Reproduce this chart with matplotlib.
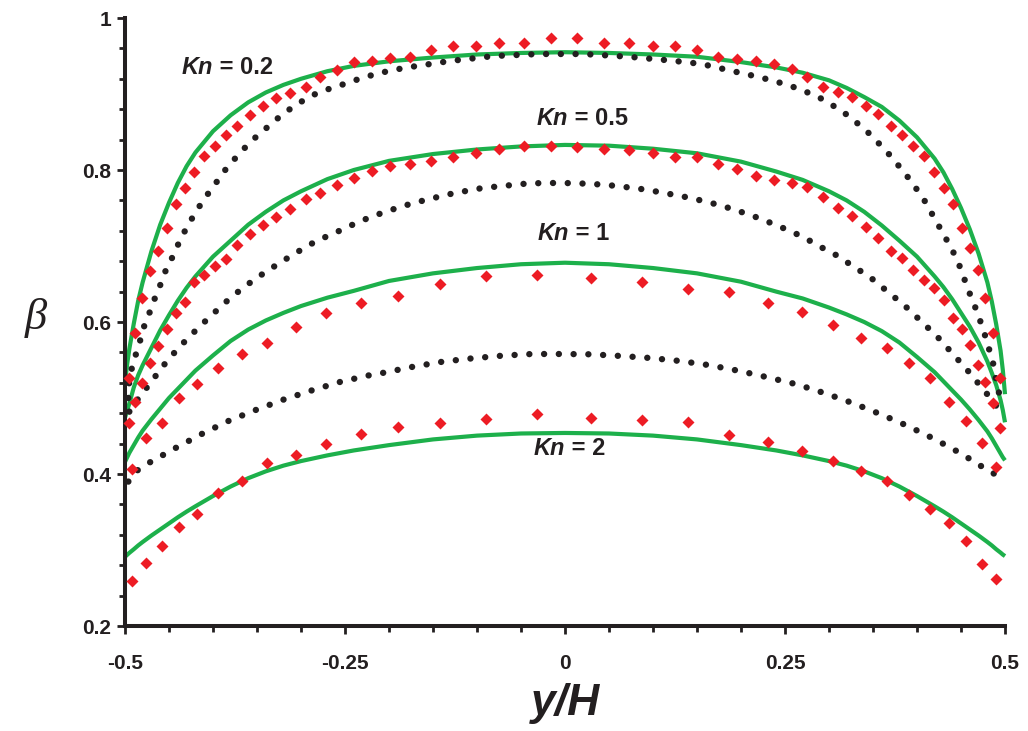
import matplotlib
matplotlib.use("Agg")
import matplotlib.pyplot as plt
from matplotlib.ticker import MultipleLocator, FixedLocator

# ---------------- data ----------------
# solid green curves
xg = [-0.5, -0.4975, -0.495, -0.49, -0.485, -0.48, -0.47, -0.46, -0.45, -0.44, -0.43, -0.42,
      -0.40, -0.38, -0.36, -0.34, -0.32, -0.30, -0.27, -0.24, -0.20, -0.15, -0.10, -0.05, 0.0,
      0.05, 0.10, 0.15, 0.20, 0.24, 0.27, 0.30, 0.32, 0.34, 0.36, 0.38, 0.40,
      0.42, 0.43, 0.44, 0.45, 0.46, 0.47, 0.48, 0.485, 0.49, 0.495, 0.4975, 0.5]
g_kn02 = [0.520, 0.545, 0.565, 0.598, 0.628, 0.652, 0.693, 0.728, 0.757, 0.783, 0.805, 0.823,
          0.851, 0.872, 0.889, 0.902, 0.912, 0.920, 0.930, 0.937, 0.943, 0.948, 0.952, 0.954, 0.955,
          0.954, 0.952, 0.949, 0.942, 0.935, 0.928, 0.918, 0.908, 0.896, 0.883, 0.865, 0.843,
          0.815, 0.797, 0.775, 0.750, 0.722, 0.690, 0.652, 0.627, 0.597, 0.562, 0.537, 0.505]
g_kn05 = [0.474, 0.484, 0.493, 0.514, 0.530, 0.543, 0.566, 0.589, 0.609, 0.628, 0.645, 0.660,
          0.686, 0.707, 0.728, 0.745, 0.760, 0.772, 0.788, 0.800, 0.812, 0.821, 0.827, 0.831, 0.833,
          0.832, 0.828, 0.822, 0.811, 0.798, 0.787, 0.772, 0.760, 0.745, 0.727, 0.707, 0.686,
          0.660, 0.646, 0.630, 0.612, 0.594, 0.573, 0.548, 0.533, 0.517, 0.497, 0.484, 0.468]
g_kn1 = [0.416, 0.422, 0.428, 0.438, 0.448, 0.457, 0.472, 0.486, 0.500, 0.512, 0.524, 0.536,
         0.556, 0.575, 0.590, 0.602, 0.612, 0.621, 0.632, 0.641, 0.654, 0.664, 0.671, 0.676, 0.678,
         0.676, 0.671, 0.664, 0.653, 0.640, 0.631, 0.619, 0.610, 0.600, 0.588, 0.573, 0.554,
         0.534, 0.522, 0.510, 0.498, 0.485, 0.471, 0.456, 0.447, 0.437, 0.427, 0.422, 0.418]
g_kn2 = [0.291, 0.2937, 0.2963, 0.301, 0.306, 0.3105, 0.319, 0.327, 0.335, 0.343, 0.3505, 0.3575,
         0.371, 0.3835, 0.3945, 0.4035, 0.411, 0.417, 0.4245, 0.431, 0.438, 0.4455, 0.4505, 0.4533, 0.454,
         0.4533, 0.4505, 0.4455, 0.438, 0.431, 0.4245, 0.417, 0.411, 0.4035, 0.3945, 0.3835, 0.371,
         0.3575, 0.3505, 0.343, 0.335, 0.327, 0.319, 0.3105, 0.306, 0.301, 0.2965, 0.294, 0.292]

# black dotted curves
xb_kn02 = [-0.4962, -0.4951, -0.4917, -0.4867, -0.4818, -0.4773, -0.4705, -0.4648, -0.4583, -0.4526,
           -0.4443, -0.4375, -0.4299, -0.4216, -0.4121, -0.4026, -0.3928, -0.3826, -0.3712, -0.3599,
           -0.3474, -0.3352, -0.322, -0.3087, -0.2935, -0.2784, -0.2621, -0.2462, -0.231, -0.2148,
           -0.1989, -0.181, -0.1309, -0.0805, -0.0297, 0.0212, 0.0717, 0.1222, 0.1553, 0.1883,
           0.2216, 0.2538, 0.286, 0.3144, 0.3409, 0.3648, 0.3864, 0.4064, 0.4231, 0.4394,
           0.447, 0.4526, 0.4583, 0.4648, 0.4708, 0.4761, 0.481, 0.4859, 0.4886, 0.4924, 0.495]
b_kn02 = [0.500, 0.5237, 0.5421, 0.561, 0.5794, 0.5983, 0.6167, 0.6355, 0.6531, 0.6715,
          0.6891, 0.7079, 0.7241, 0.7408, 0.7583, 0.7737, 0.7891, 0.8057, 0.8197, 0.8342,
          0.8474, 0.8592, 0.8724, 0.8833, 0.8943, 0.903, 0.9088, 0.915, 0.921, 0.9263,
          0.9307, 0.9346, 0.9434, 0.950, 0.9526, 0.9526, 0.9491, 0.9438, 0.9395, 0.9307,
          0.922, 0.9118, 0.8974, 0.878, 0.8535, 0.8254, 0.7956, 0.7641, 0.7299, 0.6963,
          0.678, 0.6605, 0.6421, 0.6237, 0.6049, 0.5872, 0.5675, 0.550, 0.5303, 0.5114, 0.495]
xb_kn05 = [-0.4951, -0.4905, -0.481, -0.4716, -0.4508, -0.4281, -0.4042, -0.3788, -0.3523, -0.3239,
           -0.2947, -0.2803, -0.264, -0.2489, -0.2337, -0.2178, -0.2026, -0.1856, -0.1693, -0.1534,
           -0.1364, -0.1201, -0.1034, -0.0871, -0.0701, -0.0542, -0.0367, -0.0197, -0.0026, 0.014,
           0.0311, 0.0481, 0.0651, 0.0815, 0.0985, 0.1148, 0.1315, 0.1477, 0.164, 0.1807,
           0.1969, 0.2128, 0.2284, 0.2443, 0.2602, 0.2753, 0.2898, 0.3049, 0.3474, 0.3864,
           0.4231, 0.4564, 0.4784, 0.4886, 0.495]
b_kn05 = [0.482, 0.4908, 0.5049, 0.5193, 0.5509, 0.5794, 0.6062, 0.6333, 0.6566, 0.678,
          0.6987, 0.7079, 0.7158, 0.7241, 0.732, 0.7395, 0.7455, 0.752, 0.7575, 0.7618,
          0.7671, 0.7706, 0.7746, 0.7772, 0.7789, 0.7812, 0.7825, 0.7829, 0.7829, 0.7825,
          0.7816, 0.7803, 0.778, 0.7759, 0.7728, 0.7693, 0.7658, 0.7618, 0.7573, 0.752,
          0.7461, 0.7399, 0.7329, 0.7254, 0.7175, 0.7088, 0.6991, 0.6904, 0.6583, 0.6211,
          0.5807, 0.5378, 0.507, 0.4921, 0.480]
xb_kn1 = [-0.4962, -0.4856, -0.4724, -0.4432, -0.4129, -0.3826, -0.3515, -0.3201, -0.2875, -0.2557,
          -0.2224, -0.2057, -0.1724, -0.139, -0.1053, -0.0712, -0.0378, -0.0038, 0.0295, 0.0633,
          0.0974, 0.1307, 0.164, 0.1969, 0.2303, 0.2633, 0.2955, 0.3277, 0.3587, 0.3894,
          0.4197, 0.4497, 0.4781, 0.4935]
b_kn1 = [0.390, 0.405, 0.4149, 0.4338, 0.4526, 0.4697, 0.4842, 0.4978, 0.5101, 0.5211,
         0.5299, 0.5333, 0.5412, 0.5478, 0.5522, 0.5557, 0.5579, 0.5579, 0.5575, 0.5553,
         0.5526, 0.5487, 0.5432, 0.5359, 0.5272, 0.518, 0.5062, 0.493, 0.4786, 0.4632,
         0.4461, 0.4272, 0.4066, 0.3965]

# red diamonds
xr_dense = [-0.4955, -0.4886, -0.4805, -0.4716, -0.4625, -0.4526, -0.442, -0.4318, -0.4212, -0.4102,
            -0.3977, -0.3852, -0.3724, -0.358, -0.3432, -0.328, -0.3121, -0.2947, -0.2784, -0.2594,
            -0.2398, -0.2193, -0.1985, -0.1757, -0.152, -0.1275, -0.1015, -0.0745, -0.0462, -0.016,
            0.0141, 0.0443, 0.0727, 0.0996, 0.1249, 0.1499, 0.1738, 0.196, 0.2176, 0.2378,
            0.2576, 0.2755, 0.2934, 0.31, 0.3258, 0.3417, 0.356, 0.3701, 0.3826, 0.3958,
            0.408, 0.4197, 0.4307, 0.4413, 0.4508, 0.4598, 0.4697, 0.4773, 0.4859, 0.494]
r_kn02 = [0.5259, 0.5851, 0.632, 0.6675, 0.6935, 0.7233, 0.7553, 0.7759, 0.7978, 0.8188,
          0.8316, 0.8461, 0.8579, 0.8724, 0.8838, 0.8943, 0.9013, 0.9096, 0.922, 0.932,
          0.9415, 0.9436, 0.947, 0.9491, 0.9579, 0.9632, 0.9632, 0.9667, 0.9676, 0.9733,
          0.9733, 0.9676, 0.9667, 0.9632, 0.9632, 0.9579, 0.9491, 0.9463, 0.943, 0.940,
          0.9325, 0.922, 0.9096, 0.9024, 0.8954, 0.8842, 0.8733, 0.8583, 0.8461, 0.8316,
          0.8188, 0.7978, 0.7759, 0.7553, 0.7233, 0.697, 0.6684, 0.632, 0.5851, 0.5259]
r_kn05 = [0.4667, 0.4951, 0.5201, 0.5457, 0.5688, 0.5904, 0.6114, 0.6268, 0.6522, 0.6618,
          0.6737, 0.6829, 0.7013, 0.7154, 0.7276, 0.7378, 0.7487, 0.7614, 0.7701, 0.7803,
          0.7891, 0.7991, 0.8055, 0.8075, 0.8118, 0.8175, 0.822, 0.8276, 0.8316, 0.8316,
          0.8299, 0.8276, 0.8263, 0.8228, 0.8175, 0.8167, 0.8085, 0.8013, 0.7921, 0.7868,
          0.7833, 0.7772, 0.7649, 0.7496, 0.7395, 0.7254, 0.7101, 0.6938, 0.6838, 0.6684,
          0.6553, 0.6443, 0.6289, 0.6049, 0.5904, 0.5697, 0.5434, 0.5207, 0.493, 0.4609]
xr_sparse = [-0.4924, -0.4761, -0.4583, -0.4386, -0.4178, -0.394, -0.3674, -0.3383, -0.306, -0.2715,
             -0.2322, -0.1894, -0.142, -0.0898, -0.0315, 0.0292, 0.0872, 0.1394, 0.1867, 0.2303,
             0.269, 0.3042, 0.3364, 0.3656, 0.3913, 0.4148, 0.4367, 0.4557, 0.4735, 0.4898]
r_kn1 = [0.4062, 0.447, 0.4675, 0.4996, 0.5184, 0.5391, 0.5579, 0.572, 0.5938, 0.6122,
         0.6246, 0.6344, 0.6496, 0.6605, 0.6618, 0.6583, 0.6522, 0.6434, 0.6399, 0.6254,
         0.6136, 0.5961, 0.5786, 0.5654, 0.5464, 0.5259, 0.4951, 0.4701, 0.4404, 0.4096]
r_kn2 = [0.2596, 0.2825, 0.3057, 0.3299, 0.347, 0.3746, 0.3912, 0.4149, 0.425, 0.4395,
         0.4526, 0.4622, 0.4675, 0.472, 0.4786, 0.4741, 0.471, 0.4688, 0.4513, 0.4417,
         0.4307, 0.4175, 0.4043, 0.3908, 0.3724, 0.3536, 0.3351, 0.3122, 0.2816, 0.2614]

labels = ["0.2", "0.5", "1", "2"]
label_pos = [(-0.4352, 0.9355), (-0.032, 0.8678), (-0.031, 0.7158), (-0.036, 0.4336)]

xticks = [-0.5, -0.25, 0, 0.25, 0.5]
xticklabels = ["-0.5", "-0.25", "0", "0.25", "0.5"]
yticks = [0.2, 0.4, 0.6, 0.8, 1.0]
yticklabels = ["0.2", "0.4", "0.6", "0.8", "1"]

# ---------------- style ----------------
GREEN = "#1DB04B"
RED = "#ED1C24"
BLACK = "#231F20"
FONT = ["Liberation Sans Narrow", "Liberation Sans", "DejaVu Sans"]
plt.rcParams["font.family"] = FONT

fig = plt.figure(figsize=(10.28, 7.31), dpi=100)
ax = fig.add_axes([125 / 1028, 105 / 731, 880 / 1028, 608 / 731])

for yv in (g_kn02, g_kn05, g_kn1, g_kn2):
    ax.plot(xg, yv, color=GREEN, lw=3.0, solid_capstyle="butt", solid_joinstyle="round",
            clip_on=False, zorder=2)

for xb, yb in ((xb_kn02, b_kn02), (xb_kn05, b_kn05), (xb_kn1, b_kn1)):
    ax.plot(xb, yb, color=BLACK, lw=4.6, linestyle=(0, (0.01, 2.3)),
            dash_capstyle="round", clip_on=False, zorder=3)

for xr, yr in ((xr_dense, r_kn02), (xr_dense, r_kn05), (xr_sparse, r_kn1), (xr_sparse, r_kn2)):
    ax.plot(xr, yr, linestyle="none", marker="D", ms=6.4, color=RED, mec="none",
            clip_on=False, zorder=4)

for lab, (lx, ly) in zip(labels, label_pos):
    t1 = ax.text(lx, ly, "Kn", fontsize=17, fontweight="bold", fontstyle="italic",
                 color=BLACK, ha="left", va="center", family=["Liberation Sans", "DejaVu Sans"])
    ax.annotate(" = " + lab, xy=(1, 0), xycoords=t1, xytext=(0, 0), textcoords="offset points",
                ha="left", va="bottom", fontsize=17, fontweight="bold", color=BLACK,
                family=["Liberation Sans", "DejaVu Sans"])

ax.set_xlim(-0.5, 0.5)
ax.set_ylim(0.2, 1.0)
for s in ("top", "right"):
    ax.spines[s].set_visible(False)
for s in ("left", "bottom"):
    ax.spines[s].set_linewidth(2.9)
    ax.spines[s].set_color(BLACK)
    ax.spines[s].set_capstyle("projecting")

ax.xaxis.set_major_locator(FixedLocator(xticks))
ax.yaxis.set_major_locator(FixedLocator(yticks))
ax.xaxis.set_minor_locator(MultipleLocator(0.05))
ax.yaxis.set_minor_locator(MultipleLocator(0.04))
ax.set_xticklabels(xticklabels)
ax.set_yticklabels(yticklabels)
ax.tick_params(which="both", direction="out", color=BLACK, width=2.0)
ax.tick_params(which="major", length=6)
ax.tick_params(which="minor", length=4.5)
ax.tick_params(axis="x", which="major", pad=14, labelsize=15)
ax.tick_params(axis="y", which="major", pad=4, labelsize=15)
for lbl in ax.get_xticklabels() + ax.get_yticklabels():
    lbl.set_fontweight("bold")
    lbl.set_color(BLACK)

fig.text(565 / 1028, 1 - 704 / 731, "y/H", fontsize=32, fontweight="bold", fontstyle="italic",
         ha="center", va="center", color=BLACK)
fig.text(36 / 1028, 1 - 318 / 731, "β", fontsize=32, fontstyle="italic",
         ha="center", va="center", color=BLACK, family=["Liberation Serif", "DejaVu Serif"])

fig.savefig("out.png", dpi=100)
